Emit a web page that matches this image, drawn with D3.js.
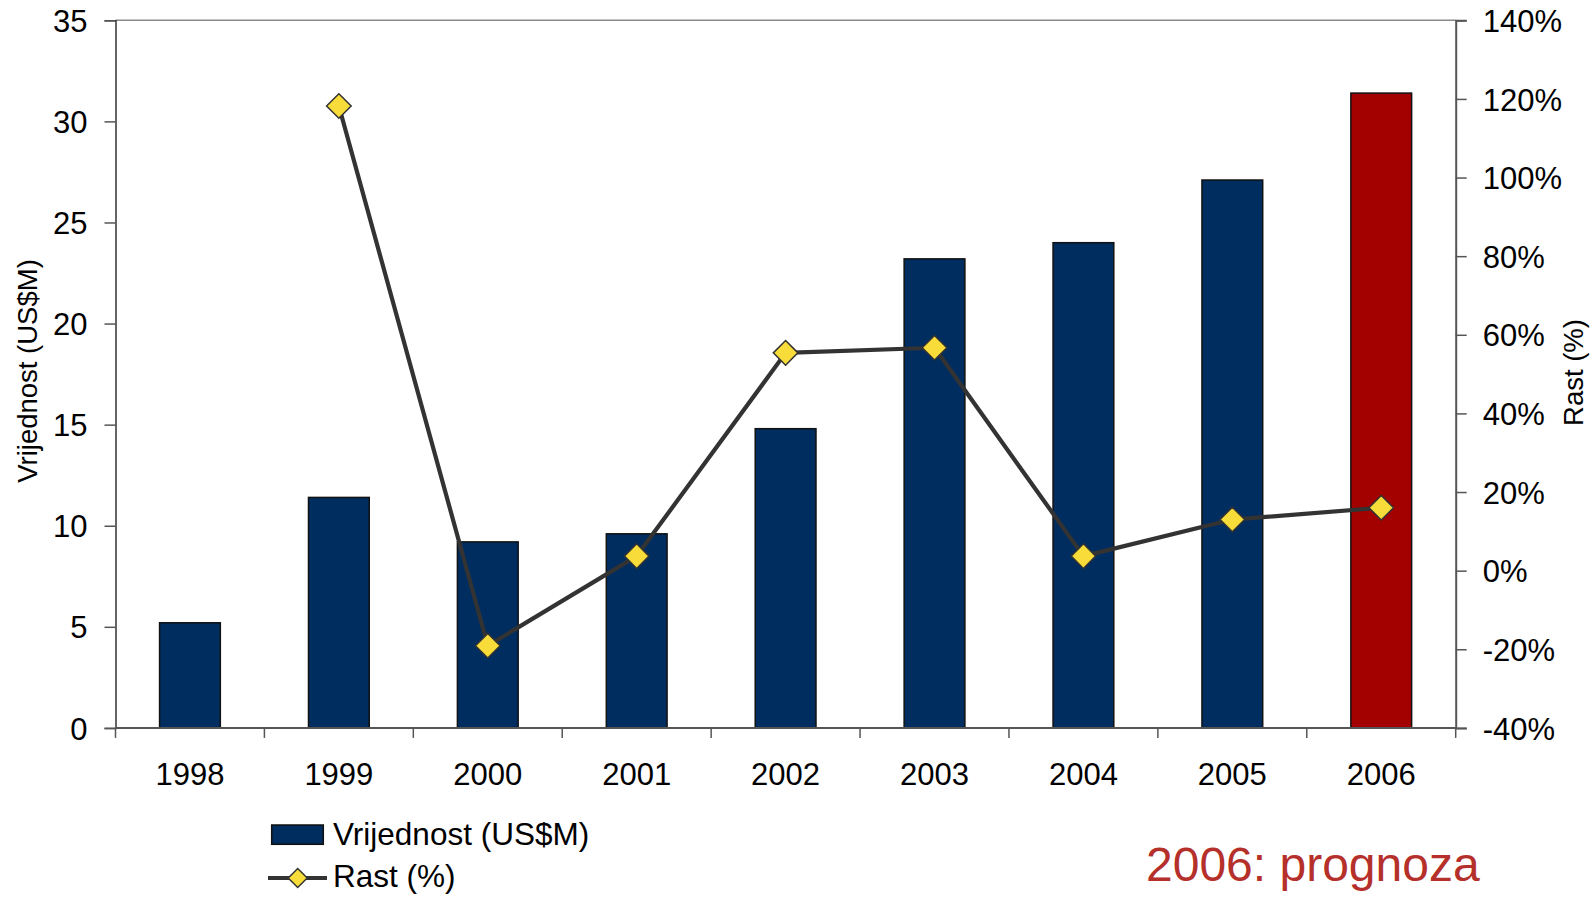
<!DOCTYPE html>
<html>
<head>
<meta charset="utf-8">
<script src="https://cdn.jsdelivr.net/npm/d3@7"></script>
<style>
  html, body { margin: 0; padding: 0; background: #fff; }
  svg { display: block; font-family: "Liberation Sans", Arial, sans-serif; }
</style>
</head>
<body>
<svg id="chart" width="1594" height="897"></svg>
<script>
// ---- data ----
const years = ["1998", "1999", "2000", "2001", "2002", "2003", "2004", "2005", "2006"];
const values = [5.2, 11.4, 9.2, 9.6, 14.8, 23.2, 24.0, 27.1, 31.4];
const growthYears = ["1999", "2000", "2001", "2002", "2003", "2004", "2005", "2006"];
const growth = [1.182, -0.191, 0.037, 0.554, 0.567, 0.037, 0.130, 0.160];
const forecastYear = "2006";
const leftTicks = [0, 5, 10, 15, 20, 25, 30, 35];
const rightTicks = [-0.4, -0.2, 0, 0.2, 0.4, 0.6, 0.8, 1.0, 1.2, 1.4];
const leftTitle = "Vrijednost (US$M)";
const rightTitle = "Rast (%)";
const legendBar = "Vrijednost (US$M)";
const legendLine = "Rast (%)";
const note = "2006: prognoza";

// ---- layout ----
const L = 115.5, R = 1455.7, T = 20.3, B = 727.9;
const navy = "#002d60", red = "#a30000", yellow = "#f8dc3a", lineCol = "#333333";
const tickFont = 31, legendFont = 31.5, titleFont = 27.5, noteFont = 48;

const svg = d3.select("#chart");

const x = d3.scaleBand().domain(years).range([L, R]).padding(0);
const yL = d3.scaleLinear().domain([0, 35]).range([B, T]);
const yR = d3.scaleLinear().domain([-0.4, 1.4]).range([B, T]);
const barFrac = 0.408;
const bw = x.bandwidth() * barFrac;

// top border
svg.append("line").attr("x1", L).attr("x2", R).attr("y1", T).attr("y2", T)
  .attr("stroke", "#8a8a8a").attr("stroke-width", 1.5);

// bars
svg.append("g").selectAll("rect").data(years).join("rect")
  .attr("x", d => x(d) + (x.bandwidth() - bw) / 2)
  .attr("y", (d, i) => yL(values[i]))
  .attr("width", bw)
  .attr("height", (d, i) => yL(0) - yL(values[i]))
  .attr("fill", d => d === forecastYear ? red : navy)
  .attr("stroke", "#111")
  .attr("stroke-width", 1.5);

// left axis
const gL = svg.append("g").attr("transform", `translate(${L},0)`)
  .call(d3.axisLeft(yL).tickValues(leftTicks).tickSize(11).tickPadding(17).tickFormat(d3.format("d")));
gL.select(".domain").attr("stroke", "#333").attr("stroke-width", 1.5);
gL.selectAll(".tick line").attr("stroke", "#555").attr("stroke-width", 1.5);
gL.selectAll(".tick text").attr("font-size", tickFont).attr("fill", "#000")
  .attr("font-family", "Liberation Sans, Arial, sans-serif").attr("dy", "0.36em");

// right axis
const gR = svg.append("g").attr("transform", `translate(${R},0)`)
  .call(d3.axisRight(yR).tickValues(rightTicks).tickSize(11).tickPadding(16)
    .tickFormat(d => Math.round(d * 100) + "%"));
gR.select(".domain").attr("stroke", "#555").attr("stroke-width", 2);
gR.selectAll(".tick line").attr("stroke", "#555").attr("stroke-width", 1.5);
gR.selectAll(".tick text").attr("font-size", tickFont).attr("fill", "#000")
  .attr("font-family", "Liberation Sans, Arial, sans-serif").attr("dy", "0.36em");

// bottom axis: baseline + boundary ticks
svg.append("line").attr("x1", L).attr("x2", R).attr("y1", B).attr("y2", B)
  .attr("stroke", "#555").attr("stroke-width", 2);
const bounds = years.map(d => x(d)).concat([x.range()[1]]);
svg.append("g").selectAll("line").data(bounds).join("line")
  .attr("x1", d => d).attr("x2", d => d).attr("y1", B).attr("y2", B + 10)
  .attr("stroke", "#555").attr("stroke-width", 1.5);
svg.append("g").selectAll("text").data(years).join("text")
  .attr("x", d => x(d) + x.bandwidth() / 2)
  .attr("y", 785)
  .attr("text-anchor", "middle")
  .attr("font-size", tickFont)
  .text(d => d);

// growth line
const pts = growthYears.map((d, i) => [x(d) + x.bandwidth() / 2, yR(growth[i])]);
svg.append("path")
  .attr("d", d3.line()(pts))
  .attr("fill", "none").attr("stroke", lineCol).attr("stroke-width", 4.2)
  .attr("stroke-linejoin", "round");
const diamond = (cx, cy, h) => `M${cx},${cy - h}L${cx + h},${cy}L${cx},${cy + h}L${cx - h},${cy}Z`;
svg.append("g").selectAll("path").data(pts).join("path")
  .attr("d", p => diamond(p[0], p[1], 12.3))
  .attr("fill", yellow).attr("stroke", "#333").attr("stroke-width", 1.5);

// axis titles
svg.append("text")
  .attr("transform", `translate(36.5,371) rotate(-90)`)
  .attr("text-anchor", "middle").attr("font-size", titleFont)
  .text(leftTitle);
svg.append("text")
  .attr("transform", `translate(1583,372.5) rotate(-90)`)
  .attr("text-anchor", "middle").attr("font-size", titleFont)
  .text(rightTitle);

// legend
svg.append("rect").attr("x", 271.7).attr("y", 825).attr("width", 51.6).attr("height", 19.3)
  .attr("fill", navy).attr("stroke", "#111").attr("stroke-width", 1.5);
svg.append("text").attr("x", 333).attr("y", 845).attr("font-size", legendFont).text(legendBar);
svg.append("line").attr("x1", 268).attr("x2", 327).attr("y1", 878).attr("y2", 878)
  .attr("stroke", lineCol).attr("stroke-width", 4.2);
svg.append("path").attr("d", diamond(297.7, 878, 9.5))
  .attr("fill", yellow).attr("stroke", "#333").attr("stroke-width", 1.5);
svg.append("text").attr("x", 333).attr("y", 887).attr("font-size", legendFont).text(legendLine);

// forecast note
svg.append("text").attr("x", 1146).attr("y", 881).attr("font-size", noteFont)
  .attr("fill", "#b5302a").text(note);
</script>
</body>
</html>
